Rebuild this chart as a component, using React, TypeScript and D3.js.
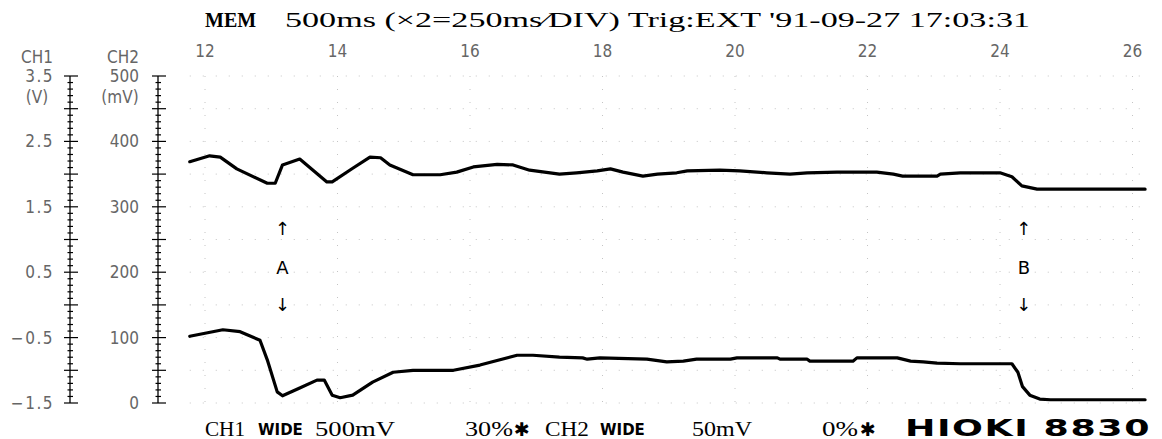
import React from 'react';
import * as d3 from 'd3';

// time axis (DIV labels) and channel scale labels
const timeLabels = [12, 14, 16, 18, 20, 22, 24, 26];
const ch1Labels = [3.5, 2.5, 1.5, 0.5, -0.5, -1.5];
const ch2Labels = [500, 400, 300, 200, 100, 0];

// CH1 trace (V)
const ch1Time = [11.77, 12.07, 12.23, 12.48, 12.94, 13.06, 13.17, 13.43, 13.84, 13.92, 14.23, 14.49, 14.65, 14.79, 15.14, 15.55, 15.8, 16.05, 16.41, 16.65, 16.9, 17.35, 17.61, 17.92, 18.12, 18.31, 18.61, 18.83, 19.12, 19.28, 19.77, 20.07, 20.48, 20.83, 21.09, 21.54, 22.14, 22.39, 22.53, 23.05, 23.1, 23.4, 24.0, 24.18, 24.33, 24.56, 26.19];
const ch1Volts = [2.19, 2.28, 2.26, 2.08, 1.86, 1.86, 2.14, 2.23, 1.88, 1.88, 2.09, 2.26, 2.25, 2.14, 1.99, 1.99, 2.03, 2.11, 2.15, 2.14, 2.06, 2.0, 2.02, 2.05, 2.08, 2.03, 1.97, 2.0, 2.02, 2.05, 2.06, 2.05, 2.02, 2.0, 2.02, 2.03, 2.03, 2.0, 1.97, 1.97, 2.0, 2.02, 2.02, 1.96, 1.82, 1.77, 1.77];

// CH2 trace (mV)
const ch2Time = [11.77, 12.27, 12.53, 12.83, 12.94, 13.09, 13.17, 13.43, 13.69, 13.8, 13.92, 14.04, 14.23, 14.53, 14.84, 15.14, 15.75, 16.15, 16.71, 16.95, 17.35, 17.7, 17.77, 17.96, 18.67, 18.97, 19.22, 19.42, 19.93, 20.03, 20.64, 20.68, 21.09, 21.13, 21.78, 21.84, 22.45, 22.65, 22.84, 23.05, 23.4, 24.18, 24.27, 24.34, 24.45, 24.6, 24.76, 26.19];
const ch2MilliVolts = [102, 112, 109, 96, 66, 17, 11, 23, 35, 35, 12, 8, 12, 32, 47, 50, 50, 58, 73, 73, 70, 69, 67, 69, 67, 63, 64, 67, 67, 69, 69, 67, 67, 64, 64, 69, 69, 64, 63, 61, 60, 60, 47, 25, 12, 6, 5, 5];

const markerLabels = ['A', 'B'];
const markerTimes = [13.17, 24.36];

const W = 1162;
const H = 439;
const thinFont = '"DejaVu Sans Condensed", "DejaVu Sans", sans-serif';
const printFont = '"Liberation Serif", "DejaVu Serif", serif';
const sans = '"DejaVu Sans", sans-serif';

export default function App() {
  const x = d3.scaleLinear().domain([12, 26]).range([205, 1132.5]);
  const y1 = d3.scaleLinear().domain([-1.5, 3.5]).range([403, 76]);
  const y2 = d3.scaleLinear().domain([0, 500]).range([403, 76]);

  const line1 = d3
    .line<number>()
    .x((d, i) => x(ch1Time[i]))
    .y((d) => y1(d));
  const line2 = d3
    .line<number>()
    .x((d, i) => x(ch2Time[i]))
    .y((d) => y2(d));

  // minor ticks every 0.1 V / 10 mV
  const ch1Ticks = d3.range(0, 51).map((i) => -1.5 + i * 0.1);
  const ch2Ticks = d3.range(0, 51).map((i) => i * 10);
  const gridRows = d3.range(0, 11).map((i) => -1.5 + i * 0.5);
  const tStart = ch1Time[0];
  const tEnd = ch1Time[ch1Time.length - 1];

  const axis = (ax: number, ticks: number[], scale: d3.ScaleLinear<number, number>) => (
    <g>
      <line x1={ax} x2={ax} y1={scale.range()[1]} y2={scale.range()[0]} stroke="#000" strokeWidth={1.3} />
      {ticks.map((t, i) => {
        const major = i % 5 === 0;
        return (
          <line
            key={i}
            x1={ax - (major ? 6 : 2.5)}
            x2={ax + (major ? 8 : 3)}
            y1={scale(t)}
            y2={scale(t)}
            stroke="#000"
            strokeWidth={1.2}
          />
        );
      })}
    </g>
  );

  return (
    <svg width={W} height={H} style={{ position: 'absolute', left: 0, top: 0, background: '#fff' }}>
      {/* faint printer grid */}
      <g stroke="#c4c4c4" strokeWidth={1} strokeDasharray="1 12">
        {gridRows.map((v) => (
          <line key={'h' + v} x1={x(tStart)} x2={x(tEnd)} y1={y1(v)} y2={y1(v)} />
        ))}
        {timeLabels.map((t) => (
          <line key={'v' + t} x1={x(t)} x2={x(t)} y1={y1(3.5)} y2={y1(-1.5)} />
        ))}
      </g>

      {/* title */}
      <text x={205} y={27} fontFamily={printFont} fontWeight="bold" fontSize={20}>
        MEM
      </text>
      <text
        x={285}
        y={27}
        fontFamily={printFont}
        fontSize={21}
        textLength={745}
        lengthAdjust="spacingAndGlyphs"
      >
        500ms (×2=250ms⁄DIV) Trig:EXT '91-09-27 17:03:31
      </text>

      {/* time labels */}
      {timeLabels.map((t) => (
        <text key={t} x={x(t)} y={57} textAnchor="middle" fontFamily={thinFont} fontSize={17} fill="#666" fontWeight={300}>
          {t}
        </text>
      ))}

      {/* channel headers */}
      <text x={37} y={63} textAnchor="middle" fontFamily={thinFont} fontSize={17} fill="#666">CH1</text>
      <text x={123} y={63} textAnchor="middle" fontFamily={thinFont} fontSize={17} fill="#666">CH2</text>
      <text x={37} y={103} textAnchor="middle" fontFamily={thinFont} fontSize={17} fill="#666">(V)</text>
      <text x={120} y={103} textAnchor="middle" fontFamily={thinFont} fontSize={17} fill="#666">(mV)</text>

      {ch1Labels.map((v) => (
        <text key={v} x={54} y={y1(v) + 6} textAnchor="end" fontFamily={thinFont} fontSize={17} fill="#666" letterSpacing={1.5}>
          {v.toFixed(1).replace('-', '−')}
        </text>
      ))}
      {ch2Labels.map((v) => (
        <text key={v} x={139} y={y2(v) + 6} textAnchor="end" fontFamily={thinFont} fontSize={17} fill="#666">
          {v}
        </text>
      ))}

      {axis(70, ch1Ticks, y1)}
      {axis(158, ch2Ticks, y2)}

      {/* traces */}
      <path d={line1(ch1Volts) ?? ''} fill="none" stroke="#000" strokeWidth={3.2} strokeLinejoin="round" strokeLinecap="round" />
      <path d={line2(ch2MilliVolts) ?? ''} fill="none" stroke="#000" strokeWidth={3.2} strokeLinejoin="round" strokeLinecap="round" />

      {/* cursor markers */}
      {markerLabels.map((m, i) => (
        <g key={m} fontFamily={sans} fontSize={18} textAnchor="middle">
          <text x={x(markerTimes[i])} y={235}>↑</text>
          <text x={x(markerTimes[i])} y={274}>{m}</text>
          <text x={x(markerTimes[i])} y={311}>↓</text>
        </g>
      ))}

      {/* footer */}
      <g fontFamily={printFont} fontSize={20}>
        <text x={205} y={436} textLength={40} lengthAdjust="spacingAndGlyphs">CH1</text>
        <text x={258} y={435} fontFamily={sans} fontWeight="bold" fontSize={15}>WIDE</text>
        <text x={315} y={436} textLength={80} lengthAdjust="spacingAndGlyphs">500mV</text>
        <text x={465} y={436} textLength={48} lengthAdjust="spacingAndGlyphs">30%</text>
        <text x={514} y={436} fontFamily={sans} fontSize={19}>✱</text>
        <text x={545} y={436} textLength={44} lengthAdjust="spacingAndGlyphs">CH2</text>
        <text x={600} y={435} fontFamily={sans} fontWeight="bold" fontSize={15}>WIDE</text>
        <text x={692} y={436} textLength={60} lengthAdjust="spacingAndGlyphs">50mV</text>
        <text x={822} y={436} textLength={36} lengthAdjust="spacingAndGlyphs">0%</text>
        <text x={860} y={436} fontFamily={sans} fontSize={19}>✱</text>
        <text
          transform="translate(905,436) scale(1.58,1)"
          fontFamily={sans}
          fontWeight="bold"
          fontSize={23}
          letterSpacing={1}
        >
          HIOKI 8830
        </text>
      </g>
    </svg>
  );
}
